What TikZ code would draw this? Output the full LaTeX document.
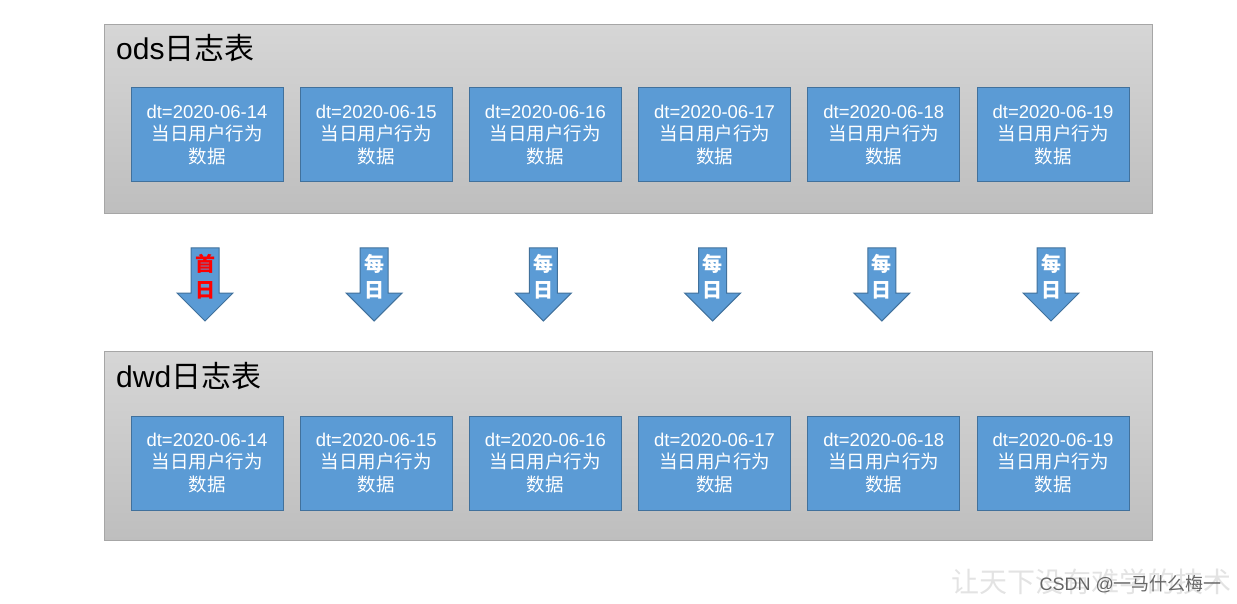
\documentclass[tikz,border=0pt]{standalone}
\usepackage{fontspec}
\setmainfont{Liberation Sans}
\newfontfamily\cjk{Noto Sans CJK SC}
\usetikzlibrary{positioning}

\definecolor{panelTop}{HTML}{D6D6D6}
\definecolor{panelBot}{HTML}{BEBEBE}
\definecolor{panelLine}{HTML}{A6A6A6}
\definecolor{boxFill}{HTML}{5B9BD5}
\definecolor{boxLine}{HTML}{41719C}

\begin{document}
\begin{tikzpicture}[x=1pt, y=-1pt,
    panel/.style={draw=panelLine, top color=panelTop, bottom color=panelBot, minimum width=1048pt, minimum height=189pt, inner sep=0pt, anchor=north west},
    daybox/.style={draw=boxLine, fill=boxFill, line width=1pt, minimum width=152pt, minimum height=94pt, inner sep=0pt, text=white, align=center, font=\fontsize{18.5}{22.5}\selectfont},
    title/.style={anchor=west, inner sep=0pt, font=\fontsize{30}{32}\selectfont},
    flow/.style={draw=boxLine, fill=boxFill, line width=1pt},
    flowtext/.style={align=center, inner sep=0pt, font=\cjk\bfseries\fontsize{20}{26}\selectfont}]

    \useasboundingbox (0,0) rectangle (1237,604);

    % The two log tables
    \node[panel] (ods) at (104,24) {};
    \node[panel] (dwd) at (104,351) {};
    \node[title] (odsTitle) at (116,48) {ods{\cjk 日志表}};
    \node[title] (dwdTitle) at (116,376) {dwd{\cjk 日志表}};

    % One partition per day
    \foreach \i/\d in {0/14, 1/15, 2/16, 3/17, 4/18, 5/19} {
        \node[daybox] (o\i) at ({207+169.2*\i},135) {dt=2020-06-\d\\{\cjk 当日用户行为}\\{\cjk 数据}};
        \node[daybox] (d\i) at ({207+169.2*\i},463) {dt=2020-06-\d\\{\cjk 当日用户行为}\\{\cjk 数据}};
    }

    % Load arrows: first day, then daily
    \foreach \i/\t/\c in {0/首/red, 1/每/white, 2/每/white, 3/每/white, 4/每/white, 5/每/white} {
        \def\cx{205+169.2*\i}
        \draw[flow] ({\cx-14},248) -- ++(28,0) -- ++(0,45) -- ++(14,0) -- ++(-28,28) -- ++(-28,-28) -- ++(14,0) -- cycle;
        \node[flowtext, text=\c] (a\i) at ({\cx},277) {\t\\日};
    }

    % Watermark
    \node[anchor=east, inner sep=0pt, text=gray!22, font=\cjk\fontsize{28}{28}\selectfont] (mark) at (1232,582) {让天下没有难学的技术};
    \node[anchor=east, inner sep=0pt, text=black!60, font=\fontsize{18}{18}\selectfont] (csdn) at (1222,584) {CSDN @{\cjk 一马什么梅一}};

\end{tikzpicture}
\end{document}
